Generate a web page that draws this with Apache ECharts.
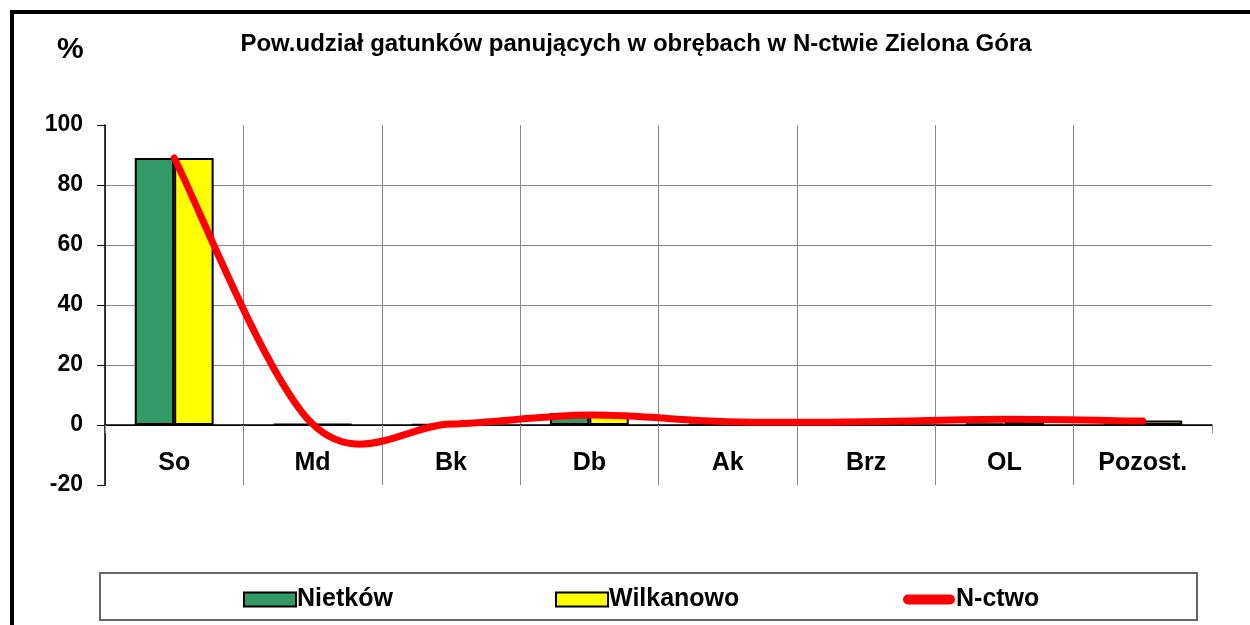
<!DOCTYPE html>
<html>
<head>
<meta charset="utf-8">
<script src="https://cdn.jsdelivr.net/npm/echarts@6/dist/echarts.min.js"></script>
<style>
  html, body { margin: 0; padding: 0; background: #fff; }
  #chart { width: 1250px; height: 625px; }
</style>
</head>
<body>
<div id="chart"></div>
<script>
const categories = ['So', 'Md', 'Bk', 'Db', 'Ak', 'Brz', 'OL', 'Pozost.']
const nietkow = [89, 0.3, 0.2, 4, 0.3, 0.3, 0.5, 0.5]
const wilkanowo = [89, 0.3, 0.2, 4, 0.3, 0.3, 1, 1.5]
const nctwo = [89, 0.3, 0.3, 3.3, 1.1, 1.1, 1.9, 1.3]
const yTicks = [-20, 0, 20, 40, 60, 80, 100]

const fontMain = 'Liberation Sans, Arial, sans-serif'

// Excel-like smoothed line (Catmull-Rom, tension 1/6) through the data points
function smoothPath(pts) {
  let d = 'M' + pts[0][0] + ',' + pts[0][1]
  for (let i = 0; i < pts.length - 1; i++) {
    const p0 = pts[Math.max(i - 1, 0)]
    const p1 = pts[i]
    const p2 = pts[i + 1]
    const p3 = pts[Math.min(i + 2, pts.length - 1)]
    const c1x = p1[0] + (p2[0] - p0[0]) / 6
    const c1y = p1[1] + (p2[1] - p0[1]) / 6
    const c2x = p2[0] - (p3[0] - p1[0]) / 6
    const c2y = p2[1] - (p3[1] - p1[1]) / 6
    d += ' C' + c1x + ',' + c1y + ' ' + c2x + ',' + c2y + ' ' + p2[0] + ',' + p2[1]
  }
  return d
}

const chart = echarts.init(document.getElementById('chart'))

const legendText = { fontFamily: fontMain, fontWeight: 'bold', fontSize: 25, color: '#000', padding: [0, 0, 0, -4] }

chart.setOption({
  backgroundColor: '#fff',
  animation: false,
  title: {
    text: 'Pow.udział gatunków panujących w obrębach w N-ctwie Zielona Góra',
    left: 631,
    top: 27,
    textAlign: 'center',
    textStyle: { fontFamily: fontMain, fontWeight: 'bold', fontSize: 24, color: '#000' }
  },
  graphic: [
    {
      type: 'rect',
      shape: { x: 12, y: 12, width: 1260, height: 640 },
      style: { fill: 'none', stroke: '#000', lineWidth: 4 }
    },
    {
      type: 'rect',
      shape: { x: 100, y: 573, width: 1097, height: 47 },
      style: { fill: 'none', stroke: '#666', lineWidth: 2 }
    },
    {
      type: 'text',
      left: 57,
      top: 35,
      style: { text: '%', fontFamily: fontMain, fontWeight: 'bold', fontSize: 30, fill: '#000' }
    }
  ],
  legend: [
    {
      left: 243, top: 587, padding: 0, itemWidth: 52, itemHeight: 14,
      textStyle: legendText,
      data: [{ name: 'Nietków', icon: 'rect', itemStyle: { borderColor: '#000', borderWidth: 2 } }]
    },
    {
      left: 555, top: 587, padding: 0, itemWidth: 52, itemHeight: 14,
      textStyle: legendText,
      data: [{ name: 'Wilkanowo', icon: 'rect', itemStyle: { borderColor: '#000', borderWidth: 2 } }]
    },
    {
      left: 903, top: 587, padding: 0, itemWidth: 52, itemHeight: 14,
      textStyle: legendText,
      data: [{ name: 'N-ctwo', icon: 'path://M5,0 H47 A5,5 0 0 1 47,10 H5 A5,5 0 0 1 5,0 Z' }]
    }
  ],
  grid: {
    left: 105,
    right: 38,
    top: 125,
    bottom: 140
  },
  xAxis: {
    type: 'category',
    data: categories,
    axisLine: { lineStyle: { color: '#000', width: 1.5 } },
    axisTick: { show: true, length: 8, lineStyle: { color: '#888' } },
    splitLine: {
      show: true,
      lineStyle: { color: ['#888', '#888', '#888', '#888', '#888', '#888', '#888', '#888', 'transparent'], width: 1 }
    },
    axisLabel: {
      margin: -34,
      fontFamily: fontMain,
      fontWeight: 'bold',
      fontSize: 25,
      color: '#000'
    }
  },
  yAxis: {
    type: 'value',
    min: -20,
    max: 100,
    interval: 20,
    axisLine: { show: true, lineStyle: { color: '#000', width: 1.5 } },
    axisTick: { show: true, length: 8, lineStyle: { color: '#000' } },
    splitLine: {
      show: true,
      lineStyle: { color: ['transparent', '#000', '#888', '#888', '#888', '#888', 'transparent'], width: 1 }
    },
    axisLabel: {
      margin: 22,
      fontFamily: fontMain,
      fontWeight: 'bold',
      fontSize: 23,
      color: '#000',
      formatter: v => (yTicks.indexOf(v) >= 0 ? String(v) : '')
    }
  },
  series: [
    {
      name: 'Nietków',
      type: 'bar',
      data: nietkow,
      barGap: '0%',
      barCategoryGap: '43%',
      itemStyle: { color: '#339966', borderColor: '#000', borderWidth: 2 }
    },
    {
      name: 'Wilkanowo',
      type: 'bar',
      data: wilkanowo,
      itemStyle: { color: '#ffff00', borderColor: '#000', borderWidth: 2 }
    },
    {
      name: 'N-ctwo',
      type: 'custom',
      data: nctwo.map((v, i) => [i, v]),
      itemStyle: { color: '#ff0000' },
      z: 5,
      renderItem: function (params, api) {
        if (params.dataIndex !== 0) return
        const pts = nctwo.map((v, i) => api.coord([i, v]))
        return {
          type: 'path',
          shape: { pathData: smoothPath(pts) },
          style: { fill: 'none', stroke: '#ff0000', lineWidth: 7, lineCap: 'round', lineJoin: 'round' }
        }
      }
    }
  ]
})
</script>
</body>
</html>
